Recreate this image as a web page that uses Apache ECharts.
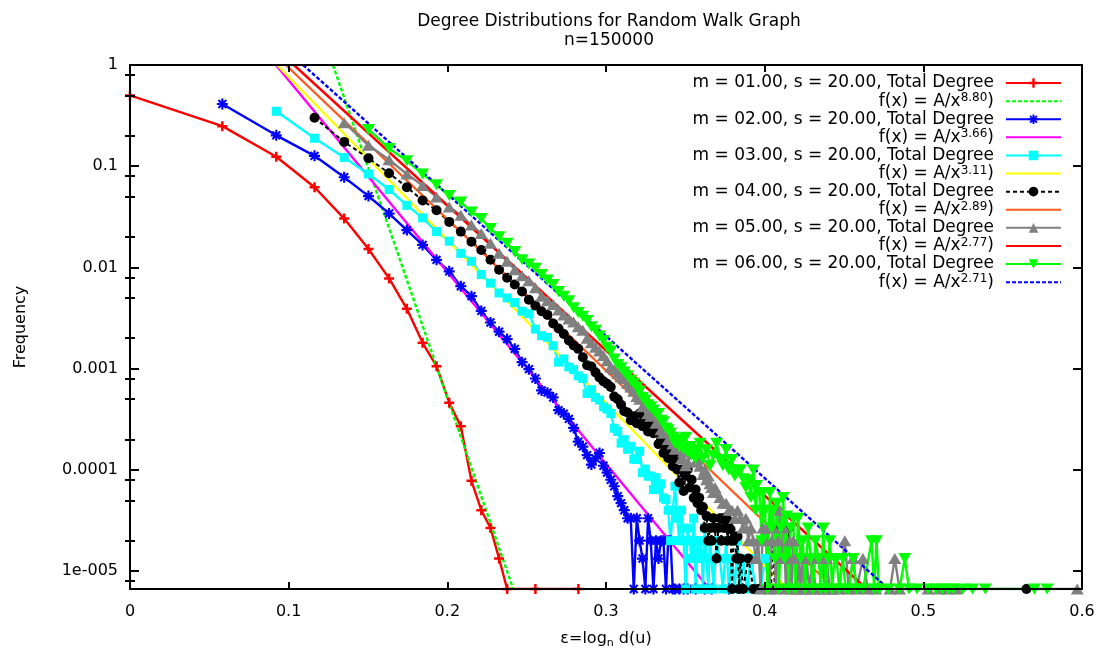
<!DOCTYPE html>
<html><head><meta charset="utf-8">
<script src="https://cdn.jsdelivr.net/npm/echarts@6/dist/echarts.min.js"></script>
<style>html,body{margin:0;padding:0;background:#fff}#chart{width:1105px;height:654px}</style>
</head><body><div id="chart"></div>
<script>
// ---------- data (epsilon = log_n d(u), frequency) ----------
const series1Points = [[0,0.5],[0.0582,0.249],[0.0922,0.124],[0.1163,0.062],[0.1350,0.0304],[0.1503,0.0152],[0.1633,0.0078],[0.1745,0.0039],[0.1844,0.0018],[0.1932,0.00106],[0.2012,0.00046],[0.2085,0.00027],[0.2152,7.8e-5],[0.2214,4e-5],[0.2272,2.667e-5],[0.2326,1.333e-5],[0.2377,6.667e-6],[0.2555,6.667e-6],[0.2826,6.667e-6]];

const series2Points = [[0.0582,0.412],[0.0922,0.202],[0.1163,0.1267],[0.1350,0.0778],[0.1503,0.0507],[0.1633,0.0341],[0.1745,0.0234],[0.1844,0.0167],[0.1932,0.0119],[0.2012,0.00916],[0.2085,0.00653],[0.2152,0.00521],[0.2214,0.00372],[0.2272,0.00286],[0.2326,0.00232],[0.2377,0.00196],[0.2425,0.00157],[0.2471,0.00116],[0.2514,0.00099],[0.2555,0.0008],[0.2594,0.00061],[0.2631,0.00058],[0.2667,0.00052],[0.2701,0.00039],[0.2734,0.00036],[0.2766,0.00032],[0.2796,0.00026],[0.2825,0.00019],[0.2854,0.00017],[0.2881,0.00014],[0.2908,0.000113],[0.2934,0.00013],[0.2959,0.000147],[0.2984,0.00011],[0.3007,9.4e-5],[0.3030,8e-5],[0.3052,6.9e-5],[0.3074,5.5e-5],[0.3095,4.7e-5],[0.3115,4e-5],[0.3136,3.333e-5],[0.3156,3.333e-5],[0.3175,6.667e-6],[0.3194,3.333e-5],[0.3212,2e-5],[0.3230,1.333e-5],[0.3248,6.667e-6],[0.3265,3.333e-5],[0.3282,2e-5],[0.3299,6.667e-6],[0.3315,2e-5],[0.3331,1.333e-5],[0.3347,2e-5],[0.3362,2e-5],[0.3378,6.667e-6],[0.3392,2e-5],[0.3407,2e-5],[0.3421,6.667e-6],[0.3435,6.667e-6],[0.3462,6.667e-6],[0.3489,6.667e-6],[0.3515,6.667e-6],[0.3565,6.667e-6],[0.3622,6.667e-6],[0.3666,6.667e-6],[0.3775,6.667e-6]];

const series3Points = [[0.0922,0.349],[0.1163,0.189],[0.1350,0.122],[0.1503,0.0839],[0.1633,0.0589],[0.1745,0.0411],[0.1844,0.0309],[0.1932,0.0226],[0.2012,0.0182],[0.2085,0.0138],[0.2152,0.0115],[0.2214,0.0085],[0.2272,0.0070],[0.2326,0.0056],[0.2377,0.0050],[0.2425,0.0045],[0.2471,0.0037],[0.2514,0.0035],[0.2555,0.00246],[0.2594,0.00212],[0.2631,0.00204],[0.2667,0.00169],[0.2701,0.00116],[0.2734,0.00125],[0.2766,0.00104],[0.2796,0.00098],[0.2825,0.00085],[0.2854,0.0008],[0.2881,0.00057],[0.2908,0.00062],[0.2934,0.00052],[0.2959,0.00049],[0.2984,0.00042],[0.3007,0.0004],[0.3030,0.000362],[0.3052,0.000258],[0.3074,0.00024],[0.3095,0.000184],[0.3115,0.000199],[0.3136,0.00016],[0.3156,0.000171],[0.3175,0.000128],[0.3194,0.000127],[0.3212,0.000153],[0.3230,9.4e-5],[0.3248,0.000102],[0.3265,8.7e-5],[0.3282,8.7e-5],[0.3299,6.4e-5],[0.3315,8.4e-5],[0.3331,6.4e-5],[0.3347,7.3e-5],[0.3362,5.3e-5],[0.3378,5.1e-5],[0.3392,4e-5],[0.3407,2e-5],[0.3421,4e-5],[0.3435,6.9e-5],[0.3449,3.333e-5],[0.3462,2e-5],[0.3476,4e-5],[0.3489,2e-5],[0.3502,6.667e-6],[0.3515,2.667e-5],[0.3528,2e-5],[0.3540,1.333e-5],[0.3553,3.333e-5],[0.3565,6.667e-6],[0.3577,2e-5],[0.3588,1.333e-5],[0.3600,2e-5],[0.3611,6.667e-6],[0.3622,2.667e-5],[0.3634,1.333e-5],[0.3645,6.667e-6],[0.3655,2e-5],[0.3666,1.333e-5],[0.3677,6.667e-6],[0.3697,2e-5],[0.3718,1.333e-5],[0.3737,6.667e-6],[0.3757,2e-5],[0.3775,6.667e-6],[0.3794,1.333e-5],[0.3812,6.667e-6],[0.3829,2e-5],[0.3847,6.667e-6],[0.3864,1.333e-5],[0.3889,6.667e-6],[0.3913,1.333e-5],[0.3944,6.667e-6],[0.3974,6.667e-6],[0.4003,1.333e-5],[0.4031,6.667e-6]];

const series4Points = [[0.1163,0.301],[0.1350,0.174],[0.1503,0.120],[0.1633,0.0852],[0.1745,0.0621],[0.1844,0.046],[0.1932,0.0367],[0.2012,0.0282],[0.2085,0.0226],[0.2152,0.018],[0.2214,0.0149],[0.2272,0.0119],[0.2326,0.0095],[0.2377,0.0079],[0.2425,0.0068],[0.2471,0.0058],[0.2514,0.0048],[0.2555,0.0042],[0.2594,0.0037],[0.2631,0.0034],[0.2667,0.0028],[0.2701,0.0025],[0.2734,0.0022],[0.2766,0.0019],[0.2796,0.0017],[0.2825,0.00157],[0.2854,0.0013],[0.2881,0.00108],[0.2908,0.00105],[0.2934,0.00092],[0.2959,0.00082],[0.2984,0.00075],[0.3007,0.00071],[0.3030,0.00066],[0.3052,0.00053],[0.3074,0.0005],[0.3095,0.00044],[0.3115,0.00038],[0.3136,0.00037],[0.3156,0.00031],[0.3175,0.00034],[0.3194,0.00029],[0.3212,0.00036],[0.3230,0.00027],[0.3248,0.00029],[0.3265,0.00024],[0.3282,0.00029],[0.3299,0.00023],[0.3315,0.00027],[0.3331,0.00018],[0.3347,0.0002],[0.3362,0.000147],[0.3378,0.000165],[0.3392,0.000131],[0.3407,0.000159],[0.3421,0.000109],[0.3435,0.000131],[0.3449,0.000101],[0.3462,7.5e-5],[0.3476,0.000101],[0.3489,6.2e-5],[0.3502,8.7e-5],[0.3515,0.000101],[0.3528,6.7e-5],[0.3540,8e-5],[0.3553,5.3e-5],[0.3565,6.4e-5],[0.3577,4.7e-5],[0.3588,5.3e-5],[0.3600,4e-5],[0.3611,4.3e-5],[0.3622,2.667e-5],[0.3634,3.5e-5],[0.3645,2e-5],[0.3655,2.667e-5],[0.3666,2e-5],[0.3677,3.333e-5],[0.3687,2.667e-5],[0.3697,1.333e-5],[0.3708,2.667e-5],[0.3718,3.333e-5],[0.3727,2e-5],[0.3737,3.333e-5],[0.3747,2.667e-5],[0.3757,3.4e-5],[0.3766,2e-5],[0.3775,3.1e-5],[0.3785,2.6e-5],[0.3794,6.667e-6],[0.3803,2e-5],[0.3812,2.2e-5],[0.3821,1.333e-5],[0.3829,2.2e-5],[0.3838,6.667e-6],[0.3847,1.333e-5],[0.3864,6.667e-6],[0.3897,1.333e-5],[0.3929,6.667e-6],[0.3959,6.667e-6],[0.4017,6.667e-6],[0.4040,6.667e-6],[0.4052,2.667e-5],[0.4064,6.667e-6],[0.4140,6.667e-6],[0.4150,2.667e-5],[0.4160,6.667e-6],[0.5650,6.667e-6]];

const series5Points = [[0.1350,0.269],[0.1503,0.161],[0.1633,0.116],[0.1745,0.0839],[0.1844,0.0644],[0.1932,0.0496],[0.2012,0.0396],[0.2085,0.0328],[0.2152,0.0262],[0.2214,0.0217],[0.2272,0.0173],[0.2326,0.0138],[0.2377,0.0115],[0.2425,0.0095],[0.2471,0.0083],[0.2514,0.0074],[0.2555,0.0063],[0.2594,0.0052],[0.2631,0.0047],[0.2667,0.0043],[0.2701,0.0038],[0.2734,0.0034],[0.2766,0.0031],[0.2796,0.0029],[0.2825,0.0026],[0.2854,0.0024],[0.2881,0.0020],[0.2908,0.0018],[0.2934,0.00163],[0.2959,0.0015],[0.2984,0.00135],[0.3007,0.0012],[0.3030,0.00104],[0.3052,0.00098],[0.3074,0.0009],[0.3095,0.00083],[0.3115,0.0008],[0.3136,0.00072],[0.3156,0.00066],[0.3175,0.0006],[0.3194,0.00053],[0.3212,0.0005],[0.3230,0.00042],[0.3248,0.00053],[0.3265,0.00036],[0.3282,0.00034],[0.3299,0.0004],[0.3315,0.00029],[0.3331,0.0003],[0.3347,0.00025],[0.3362,0.00023],[0.3378,0.00024],[0.3392,0.0002],[0.3407,0.00021],[0.3421,0.00018],[0.3435,0.00016],[0.3462,0.00018],[0.3476,0.00013],[0.3489,0.00015],[0.3502,0.00011],[0.3515,0.00012],[0.3548,0.000147],[0.3565,0.00012],[0.3577,0.00013],[0.3592,0.000109],[0.3611,9e-5],[0.3622,0.0001],[0.3634,8e-5],[0.3645,8.7e-5],[0.3655,7.3e-5],[0.3666,6.7e-5],[0.3677,6e-5],[0.3687,6.7e-5],[0.3697,6e-5],[0.3718,5.333e-5],[0.3737,4.7e-5],[0.3757,4.7e-5],[0.3775,4e-5],[0.3794,4e-5],[0.3812,3.333e-5],[0.3829,4e-5],[0.3847,3.333e-5],[0.3864,2.667e-5],[0.3881,3.333e-5],[0.3897,2e-5],[0.3913,2.667e-5],[0.3929,2e-5],[0.3944,1.333e-5],[0.3959,2e-5],[0.3974,6.667e-6],[0.3989,2.667e-5],[0.4003,2e-5],[0.4017,2.667e-5],[0.4031,6.667e-6],[0.4044,2e-5],[0.4057,2.667e-5],[0.4071,6.667e-6],[0.4084,2e-5],[0.4096,4e-5],[0.4109,1.333e-5],[0.4121,2.667e-5],[0.4134,6.667e-6],[0.4146,1.333e-5],[0.4158,2e-5],[0.4170,6.667e-6],[0.4181,2e-5],[0.4193,1.333e-5],[0.4204,6.667e-6],[0.4215,1.333e-5],[0.4226,6.667e-6],[0.4237,1.333e-5],[0.4248,6.667e-6],[0.4264,1.333e-5],[0.4280,6.667e-6],[0.4304,1.333e-5],[0.4320,6.667e-6],[0.4348,6.667e-6],[0.4364,1.333e-5],[0.4380,6.667e-6],[0.4390,1.333e-5],[0.4410,6.667e-6],[0.4430,6.667e-6],[0.4470,6.667e-6],[0.4505,2e-5],[0.4530,6.667e-6],[0.4556,1.333e-5],[0.4580,6.667e-6],[0.4619,1.333e-5],[0.4650,6.667e-6],[0.4700,6.667e-6],[0.4790,6.667e-6],[0.4820,1.333e-5],[0.4850,6.667e-6],[0.5030,6.667e-6],[0.5100,6.667e-6],[0.5150,6.667e-6],[0.5210,6.667e-6],[0.5970,6.667e-6]];

const series6Points = [[0.1503,0.231],[0.1633,0.150],[0.1745,0.113],[0.1844,0.0839],[0.1932,0.0655],[0.2012,0.0514],[0.2085,0.0443],[0.2152,0.0354],[0.2214,0.0304],[0.2272,0.0243],[0.2326,0.0201],[0.2377,0.0173],[0.2425,0.0144],[0.2471,0.0119],[0.2514,0.0108],[0.2555,0.0098],[0.2594,0.0085],[0.2631,0.0075],[0.2667,0.0068],[0.2701,0.0058],[0.2734,0.0052],[0.2766,0.0047],[0.2796,0.0040],[0.2825,0.0036],[0.2854,0.0033],[0.2881,0.0030],[0.2908,0.0026],[0.2934,0.0024],[0.2959,0.0021],[0.2984,0.0019],[0.3007,0.00163],[0.3030,0.0015],[0.3052,0.00125],[0.3074,0.0011],[0.3095,0.00102],[0.3115,0.00093],[0.3136,0.00085],[0.3156,0.00077],[0.3175,0.00072],[0.3194,0.00066],[0.3212,0.0006],[0.3230,0.00052],[0.3248,0.00049],[0.3265,0.00044],[0.3282,0.00042],[0.3299,0.00039],[0.3315,0.00036],[0.3331,0.00036],[0.3347,0.00031],[0.3362,0.0003],[0.3378,0.00026],[0.3392,0.00025],[0.3407,0.00023],[0.3421,0.00021],[0.3435,0.000184],[0.3449,0.0002],[0.3462,0.00017],[0.3476,0.00019],[0.3489,0.00016],[0.3502,0.00021],[0.3515,0.00015],[0.3528,0.00017],[0.3540,0.00014],[0.3553,0.00016],[0.3565,0.00013],[0.3577,0.00015],[0.3592,0.000184],[0.3611,0.00013],[0.3634,0.000158],[0.3655,0.00011],[0.3677,0.00014],[0.3697,0.000184],[0.3718,0.000127],[0.3737,0.00011],[0.3757,0.000159],[0.3775,0.0001],[0.3794,0.000127],[0.3812,8.7e-5],[0.3829,0.0001],[0.3847,0.0001],[0.3865,8.2e-5],[0.3881,6.7e-5],[0.3897,8e-5],[0.3913,5.333e-5],[0.3928,0.0001],[0.3944,4e-5],[0.3949,7e-5],[0.3967,6e-5],[0.3981,2e-5],[0.3991,6e-5],[0.4003,4e-5],[0.4017,6.667e-6],[0.4033,6e-5],[0.4044,2.667e-5],[0.4054,4e-5],[0.4064,1.333e-5],[0.4077,4.7e-5],[0.4090,6.667e-6],[0.4103,2.667e-5],[0.4117,5.333e-5],[0.4127,1.333e-5],[0.4138,3.5e-5],[0.4150,6.667e-6],[0.4164,2.667e-5],[0.4180,3.333e-5],[0.4193,6.667e-6],[0.4211,3.333e-5],[0.4226,1.333e-5],[0.4240,2e-5],[0.4256,6.667e-6],[0.4274,2.667e-5],[0.4290,1.333e-5],[0.4305,6.667e-6],[0.4320,2e-5],[0.4340,1.333e-5],[0.4355,6.667e-6],[0.4369,2.667e-5],[0.4385,6.667e-6],[0.4400,1.333e-5],[0.4411,2e-5],[0.4425,6.667e-6],[0.4440,1.333e-5],[0.4453,1.333e-5],[0.4470,6.667e-6],[0.4493,1.333e-5],[0.4510,6.667e-6],[0.4530,6.667e-6],[0.4558,1.333e-5],[0.4580,6.667e-6],[0.4620,6.667e-6],[0.4674,2e-5],[0.4690,6.667e-6],[0.4705,2e-5],[0.4720,6.667e-6],[0.4780,6.667e-6],[0.4850,6.667e-6],[0.4883,1.333e-5],[0.4910,6.667e-6],[0.4960,6.667e-6],[0.5030,6.667e-6],[0.5080,6.667e-6],[0.5120,6.667e-6],[0.5160,6.667e-6],[0.5190,6.667e-6],[0.5250,6.667e-6],[0.5310,6.667e-6],[0.5390,6.667e-6],[0.5700,6.667e-6],[0.5780,6.667e-6]];

// fitted power laws f(x) = A/x^k : straight lines on this plot, given by their two ends
const fitExponents = ['8.80', '3.66', '3.11', '2.89', '2.77', '2.71'];
const fitStartEps = [0.1279, 0.0920, 0.0927, 0.0982, 0.1033, 0.1091];
const fitEndEps = [0.2415, 0.3653, 0.4143, 0.4443, 0.4644, 0.4781];
const fitStartFreq = [1, 1, 1, 1, 1, 1];
const fitEndFreq = [6.667e-6, 6.667e-6, 6.667e-6, 6.667e-6, 6.667e-6, 6.667e-6];

const dataLabels = ['m = 01.00, s = 20.00, Total Degree', 'm = 02.00, s = 20.00, Total Degree', 'm = 03.00, s = 20.00, Total Degree', 'm = 04.00, s = 20.00, Total Degree', 'm = 05.00, s = 20.00, Total Degree', 'm = 06.00, s = 20.00, Total Degree'];
const yTickLabels = ['1', '0.1', '0.01', '0.001', '0.0001', '1e-005'];
const minorTickValues = [8e-6, 2e-5, 5e-5, 8e-5, 2e-4, 5e-4, 8e-4, 2e-3, 5e-3, 8e-3, 0.02, 0.05, 0.08, 0.2, 0.5, 0.8];
const yMin = 6.6667e-6, yMax = 1;

// ---------- styles ----------
const FONT = 'DejaVu Sans';
const plusPath = 'path://M3,0H5V3H8V5H5V8H3V5H0V3H3Z';
const starPath = 'path://M3.2,0H4.8V3.2H8V4.8H4.8V8H3.2V4.8H0V3.2H3.2Z M0.6,1.7L1.7,0.6L4,2.9L6.3,0.6L7.4,1.7L5.1,4L7.4,6.3L6.3,7.4L4,5.1L1.7,7.4L0.6,6.3L2.9,4Z';
const dataStyles = [
  {color: '#ff0000', symbol: plusPath, size: 10, rotate: 0, dash: 'solid', width: 2.4},
  {color: '#0000ff', symbol: starPath, size: 11, rotate: 0, dash: 'solid', width: 2.4},
  {color: '#00ffff', symbol: 'rect', size: 9, rotate: 0, dash: 'solid', width: 2.4},
  {color: '#000000', symbol: 'circle', size: 10, rotate: 0, dash: [4, 3], width: 2},
  {color: '#808080', symbol: 'triangle', size: [13, 11], rotate: 0, dash: 'solid', width: 2.4},
  {color: '#00ff00', symbol: 'triangle', size: [13, 11], rotate: 180, dash: 'solid', width: 2.4}
];
const fitStyles = [
  {color: '#00ff00', dash: [4, 2]},
  {color: '#ff00ff', dash: 'solid'},
  {color: '#ffff00', dash: 'solid'},
  {color: '#ff5a1e', dash: 'solid'},
  {color: '#ff0000', dash: 'solid'},
  {color: '#0000ff', dash: [4, 2]}
];
const allPoints = [series1Points, series2Points, series3Points, series4Points, series5Points, series6Points];

const series = [];
const legendNames = [];
for (let i = 0; i < 6; i++) {
  const ds = dataStyles[i];
  series.push({
    name: dataLabels[i], type: 'line', data: allPoints[i],
    xAxisIndex: 0, yAxisIndex: 0,
    symbol: ds.symbol, symbolSize: ds.size, symbolRotate: ds.rotate, showAllSymbol: true,
    lineStyle: {color: ds.color, width: ds.width, type: ds.dash},
    itemStyle: {color: ds.color},
    emphasis: {disabled: true}, clip: true
  });
  legendNames.push(dataLabels[i]);
  const fs = fitStyles[i];
  const fitName = 'f(x) = A/x' + fitExponents[i] + ')';
  series.push({
    name: fitName, type: 'line',
    data: [[fitStartEps[i], fitStartFreq[i]], [fitEndEps[i], fitEndFreq[i]]],
    xAxisIndex: 0, yAxisIndex: 0, symbol: 'none',
    lineStyle: {color: fs.color, width: 2.4, type: fs.dash},
    itemStyle: {color: fs.color, opacity: 0},
    emphasis: {disabled: true}, clip: true
  });
  legendNames.push(fitName);
}

const axisLineStyle = {show: true, onZero: false, lineStyle: {color: '#000', width: 2}};
const logMin = Math.log10(yMin);
const minorLog = minorTickValues.map(v => Math.log10(v));

const option = {
  animation: false,
  backgroundColor: '#fff',
  title: {
    text: 'Degree Distributions for Random Walk Graph\nn=150000',
    left: 604, top: 7, textAlign: 'center',
    textStyle: {fontFamily: FONT, fontSize: 17, fontWeight: 'normal', color: '#000', lineHeight: 19}
  },
  grid: {left: 130, right: 23, top: 65, bottom: 60, containLabel: false},
  legend: {
    data: legendNames.map(n => ({name: n})), orient: 'vertical', align: 'right',
    right: 43, top: 74, padding: 0, itemGap: 0,
    itemWidth: 55, itemHeight: 12, selectedMode: false,
    formatter: function (name) {
      return name.replace(/A\/x([\d.]+)\)$/, 'A/x{sup|$1})');
    },
    textStyle: {
      fontFamily: FONT, fontSize: 17, color: '#000', lineHeight: 18.1, padding: [0, 7, 0, 0],
      rich: {sup: {fontFamily: FONT, fontSize: 12, color: '#000', verticalAlign: 'top', lineHeight: 5}}
    }
  },
  xAxis: [
    {
      type: 'value', min: 0, max: 0.6, interval: 0.1, position: 'bottom', z: 5,
      axisLine: axisLineStyle,
      axisTick: {inside: true, length: 7, lineStyle: {color: '#000', width: 2}},
      axisLabel: {color: '#000', fontFamily: FONT, fontSize: 16, margin: 15},
      splitLine: {show: false},
      name: 'ε=log{sub|n} d(u)', nameLocation: 'middle', nameGap: 40,
      nameTextStyle: {
        fontFamily: FONT, fontSize: 16, color: '#000', lineHeight: 20,
        rich: {sub: {fontFamily: FONT, fontSize: 11, color: '#000', verticalAlign: 'bottom', lineHeight: 20}}
      }
    },
    {
      type: 'value', min: 0, max: 0.6, interval: 0.1, position: 'top', z: 5,
      axisLine: axisLineStyle,
      axisTick: {inside: true, length: 7, lineStyle: {color: '#000', width: 2}},
      axisLabel: {show: false}, splitLine: {show: false}
    }
  ],
  yAxis: [
    {
      type: 'log', logBase: 10, min: yMin, max: yMax, position: 'left', z: 5,
      axisLine: axisLineStyle,
      axisTick: {inside: true, length: 9, lineStyle: {color: '#000', width: 2}},
      axisLabel: {
        color: '#000', fontFamily: FONT, fontSize: 16, margin: 12,
        formatter: function (v) {
          const lg = Math.log10(v);
          const e = Math.round(-lg);
          if (Math.abs(lg + e) > 1e-6) return '';
          return yTickLabels[e] !== undefined ? yTickLabels[e] : '';
        }
      },
      splitLine: {show: false}, minorTick: {show: false},
      name: 'Frequency', nameLocation: 'middle', nameRotate: 90, nameGap: 101,
      nameTextStyle: {fontFamily: FONT, fontSize: 16, color: '#000'}
    },
    {
      type: 'log', logBase: 10, min: yMin, max: yMax, position: 'right', z: 5,
      axisLine: axisLineStyle,
      axisTick: {inside: true, length: 9, lineStyle: {color: '#000', width: 2}},
      axisLabel: {show: false}, splitLine: {show: false}
    },
    {
      type: 'value', min: logMin, max: 0, position: 'left', z: 5,
      axisLine: {show: false},
      axisTick: {show: true, inside: true, length: 5, customValues: minorLog, lineStyle: {color: '#000', width: 2}},
      axisLabel: {show: false}, splitLine: {show: false}
    },
    {
      type: 'value', min: logMin, max: 0, position: 'right', z: 5,
      axisLine: {show: false},
      axisTick: {show: true, inside: true, length: 5, customValues: minorLog, lineStyle: {color: '#000', width: 2}},
      axisLabel: {show: false}, splitLine: {show: false}
    }
  ],
  series: series
};

const chart = echarts.init(document.getElementById('chart'), null, {renderer: 'canvas'});
chart.setOption(option);
</script>
</body></html>
